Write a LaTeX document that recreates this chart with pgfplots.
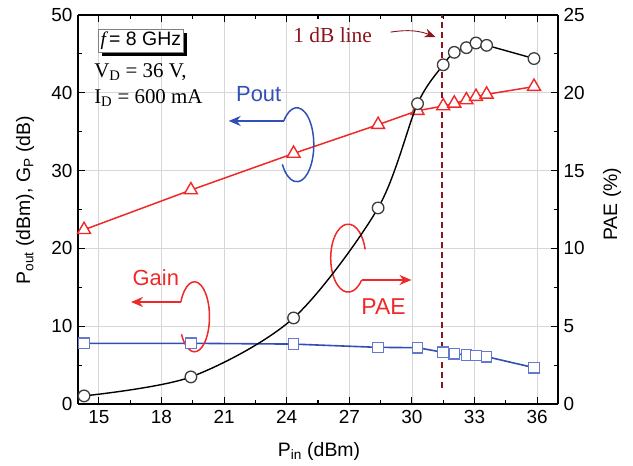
\documentclass[border=0pt]{standalone}
\usepackage{fontspec}
\setmainfont{Liberation Sans}
\newfontfamily\tnr{Liberation Serif}
\usepackage{pgfplots}
\pgfplotsset{compat=1.18}
\usetikzlibrary{arrows.meta,shadows}

\definecolor{pred}{RGB}{240,40,40}
\definecolor{pblue}{RGB}{50,80,180}
\definecolor{pbluem}{RGB}{100,120,210}
\definecolor{dred}{RGB}{140,20,30}
\definecolor{gridc}{RGB}{215,215,215}
\definecolor{circ}{RGB}{60,60,60}

\pgfplotsset{
  base/.style={
    width=480bp, height=389bp, scale only axis,
    xmin=14, xmax=37,
    xtick={15,18,...,36},
    minor x tick num=1,
    tick align=inside,
    major tick length=7bp, minor tick length=4bp,
    axis line style={line width=1.3bp},
    every tick/.style={black, line width=1.1bp},
    tick label style={font=\fontsize{19}{19}\selectfont},
    label style={font=\fontsize{19.5}{19.5}\selectfont},
    /pgf/number format/assume math mode=true,
  }
}

\begin{document}
\begin{tikzpicture}
\path[use as bounding box] (-78bp,-62bp) rectangle (555bp,404bp);

% left axis: Pout and gain
\begin{axis}[base,
  ymin=0, ymax=50,
  ytick={0,10,...,50},
  minor y tick num=1,
  axis y line*=left,
  grid=major,
  grid style={gridc, line width=0.8bp},
  xticklabel style={yshift=-3bp},
  yticklabel style={xshift=-2bp},
  xlabel={P\textsubscript{in} (dBm)},
  ylabel={P\textsubscript{out} (dBm), G\textsubscript{P} (dB)},
  xlabel style={at={(axis description cs:0.502,-0.123)}, anchor=center},
  ylabel style={at={(axis description cs:-0.11,0.524)}, anchor=center},
]
% Pout
\addplot[pred, line width=1.5bp, mark=triangle*, mark size=7.5bp,
  mark options={draw=pred, fill=white, line width=1.4bp, solid}]
  coordinates {(14.29,22.4) (19.41,27.5) (24.33,32.2) (28.38,35.9) (30.27,37.7)
    (31.5,38.3) (32.03,38.65) (32.61,39.07) (33.07,39.5) (33.58,39.8) (35.85,40.8)};
% Gain
\addplot[pblue, line width=1.6bp, mark=square*, mark size=5.3bp,
  mark options={draw=pbluem, fill=white, line width=1.1bp, solid}]
  coordinates {(14.29,7.8) (19.41,7.8) (24.33,7.7) (28.38,7.28) (30.27,7.24)
    (31.5,6.64) (32.03,6.47) (32.61,6.3) (33.07,6.25) (33.58,6.08) (35.85,4.67)};
% 1 dB compression line
\addplot[dred, line width=1.7bp, dash pattern=on 6bp off 4bp]
  coordinates {(31.43,2) (31.43,50)};

% text box
\node[draw=gray, fill=white, line width=0.6bp, inner sep=2.5bp,
  drop shadow={shadow xshift=3.5bp, shadow yshift=-3.5bp, fill=black, opacity=1},
  font=\fontsize{19.5}{19.5}\selectfont]
  at (axis cs:17.01,46.66) {{\tnr\itshape f}\,= 8 GHz};
\node[anchor=west, inner sep=0pt, font=\tnr\fontsize{21}{21}\selectfont]
  at (axis cs:14.77,42.67) {V\textsubscript{D} = 36 V,};
\node[anchor=west, inner sep=0pt, font=\tnr\fontsize{21}{21}\selectfont]
  at (axis cs:14.77,39.33) {I\textsubscript{D} = 600 mA};

% 1 dB line label
\node[dred, inner sep=0pt, font=\tnr\fontsize{21.5}{21.5}\selectfont]
  at (axis cs:26.2,47.43) {1 dB line};
\draw[dred, line width=0.9bp, -{Stealth[length=11bp,width=9bp]}]
  (axis cs:28.98,47.8) to[bend left=15] (axis cs:31.13,47.17);

% Pout annotation
\node[pblue, inner sep=0pt, font=\fontsize{22}{22}\selectfont]
  at (axis cs:22.66,39.85) {Pout};
\draw[pblue, line width=1.5bp] (axis cs:23.86,36.38)
  arc[start angle=140, end angle=-148, x radius=17bp, y radius=37bp];
\draw[pblue, line width=2bp, -{Stealth[length=12bp,width=10bp]}]
  (axis cs:23.86,36.38) -- (axis cs:21.22,36.38);

% Gain annotation
\node[pred, inner sep=0pt, font=\fontsize{22}{22}\selectfont]
  at (axis cs:17.73,16.2) {Gain};
\draw[pred, line width=1.5bp] (axis cs:18.93,13.11)
  arc[start angle=155, end angle=-150, x radius=15bp, y radius=35bp];
\draw[pred, line width=2bp, -{Stealth[length=12bp,width=10bp]}]
  (axis cs:18.93,13.11) -- (axis cs:16.54,13.11);

% PAE annotation
\node[pred, inner sep=0pt, font=\fontsize{23}{23}\selectfont]
  at (axis cs:28.64,12.47) {PAE};
\draw[pred, line width=1.5bp] (axis cs:27.59,15.94)
  arc[start angle=-40, end angle=-345, x radius=17.5bp, y radius=34bp];
\draw[pred, line width=2bp, -{Stealth[length=12bp,width=10bp]}]
  (axis cs:27.59,15.94) -- (axis cs:29.98,15.94);
\end{axis}

% right axis: PAE
\begin{axis}[base,
  ymin=0, ymax=25,
  ytick={0,5,...,25},
  minor y tick num=1,
  axis y line*=right,
  axis x line=none,
  yticklabel style={xshift=2bp},
  ylabel={PAE (\%)},
  ylabel style={at={(axis description cs:1.1125,0.514)}, anchor=center},
]
\addplot[black, line width=1.4bp, smooth, tension=0.5, mark=*, mark size=5.8bp,
  mark options={draw=circ, fill=white, line width=1.3bp, solid}]
  coordinates {(14.29,0.52) (19.41,1.74) (24.33,5.53) (28.38,12.6) (30.27,19.3)
    (31.5,21.8) (32.03,22.6) (32.61,22.9) (33.07,23.2) (33.58,23.05) (35.85,22.2)};
\end{axis}
\end{tikzpicture}
\end{document}
